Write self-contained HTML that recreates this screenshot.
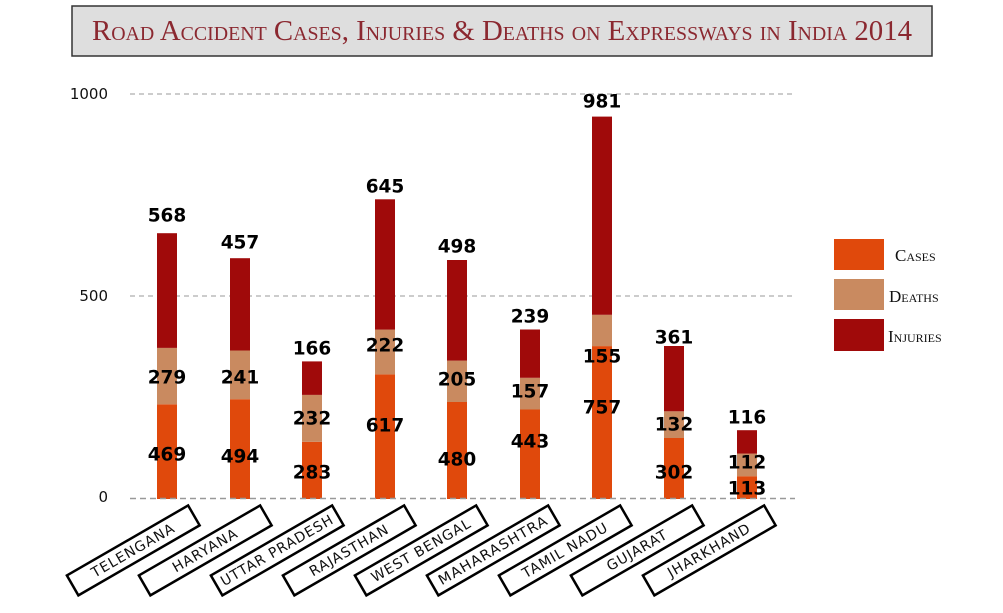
<!DOCTYPE html>
<html><head><meta charset="utf-8"><style>
html,body{margin:0;padding:0;background:#fff;}
svg{display:block;}
.v{font-family:"DejaVu Sans","Liberation Sans",sans-serif;font-weight:bold;font-size:18.5px;fill:#000;text-anchor:middle;dominant-baseline:central;}
.ax{font-family:"DejaVu Sans","Liberation Sans",sans-serif;font-size:15px;fill:#111;text-anchor:end;dominant-baseline:central;}
.lb{font-family:"DejaVu Sans","Liberation Sans",sans-serif;font-size:14px;fill:#111;text-anchor:middle;dominant-baseline:central;letter-spacing:1px;}
.lg{font-family:"Liberation Serif",serif;font-size:17px;fill:#111;font-variant:small-caps;}
</style></head><body>
<svg width="1003" height="613" viewBox="0 0 1003 613">
<rect x="72" y="6" width="860" height="50" fill="#dedede" stroke="#333" stroke-width="1.5"/>
<text x="502" y="40" text-anchor="middle" font-family="Liberation Serif, serif" font-size="29" fill="#8b2830" style="font-variant:small-caps" textLength="820" lengthAdjust="spacingAndGlyphs">Road Accident Cases, Injuries &amp; Deaths on Expressways in India 2014</text>

<g stroke="#999" stroke-dasharray="5,4" stroke-width="1">
<line x1="130" y1="94" x2="795" y2="94"/>
<line x1="130" y1="296" x2="795" y2="296"/>
</g>
<text class="ax" x="108" y="94">1000</text>
<text class="ax" x="108" y="296">500</text>
<text class="ax" x="108" y="497">0</text>

<g>
<rect x="157" y="404.3" width="20" height="94.7" fill="#e0490c"/>
<rect x="157" y="347.9" width="20" height="56.4" fill="#c98a60"/>
<rect x="157" y="233.2" width="20" height="114.7" fill="#a00a0a"/>
<rect x="230" y="399.2" width="20" height="99.8" fill="#e0490c"/>
<rect x="230" y="350.5" width="20" height="48.7" fill="#c98a60"/>
<rect x="230" y="258.2" width="20" height="92.3" fill="#a00a0a"/>
<rect x="302" y="441.8" width="20" height="57.2" fill="#e0490c"/>
<rect x="302" y="394.9" width="20" height="46.9" fill="#c98a60"/>
<rect x="302" y="361.4" width="20" height="33.5" fill="#a00a0a"/>
<rect x="375" y="374.4" width="20" height="124.6" fill="#e0490c"/>
<rect x="375" y="329.6" width="20" height="44.8" fill="#c98a60"/>
<rect x="375" y="199.3" width="20" height="130.3" fill="#a00a0a"/>
<rect x="447" y="402" width="20" height="97" fill="#e0490c"/>
<rect x="447" y="360.6" width="20" height="41.4" fill="#c98a60"/>
<rect x="447" y="260" width="20" height="100.6" fill="#a00a0a"/>
<rect x="520" y="409.5" width="20" height="89.5" fill="#e0490c"/>
<rect x="520" y="377.8" width="20" height="31.7" fill="#c98a60"/>
<rect x="520" y="329.5" width="20" height="48.3" fill="#a00a0a"/>
<rect x="592" y="346.1" width="20" height="152.9" fill="#e0490c"/>
<rect x="592" y="314.8" width="20" height="31.3" fill="#c98a60"/>
<rect x="592" y="116.6" width="20" height="198.2" fill="#a00a0a"/>
<rect x="664" y="438" width="20" height="61" fill="#e0490c"/>
<rect x="664" y="411.3" width="20" height="26.7" fill="#c98a60"/>
<rect x="664" y="346" width="20" height="65.3" fill="#a00a0a"/>
<rect x="737" y="476.2" width="20" height="22.8" fill="#e0490c"/>
<rect x="737" y="453.6" width="20" height="22.6" fill="#c98a60"/>
<rect x="737" y="430.2" width="20" height="23.4" fill="#a00a0a"/>
</g>
<line x1="130" y1="498.5" x2="795" y2="498.5" stroke="#999" stroke-dasharray="6,4" stroke-width="1.5"/>

<text class="v" x="167" y="216">568</text><text class="v" x="167" y="378">279</text><text class="v" x="167" y="455">469</text>
<text class="v" x="240" y="243">457</text><text class="v" x="240" y="378">241</text><text class="v" x="240" y="457">494</text>
<text class="v" x="312" y="349">166</text><text class="v" x="312" y="419">232</text><text class="v" x="312" y="473">283</text>
<text class="v" x="385" y="187">645</text><text class="v" x="385" y="346">222</text><text class="v" x="385" y="426">617</text>
<text class="v" x="457" y="247">498</text><text class="v" x="457" y="380">205</text><text class="v" x="457" y="460">480</text>
<text class="v" x="530" y="317">239</text><text class="v" x="530" y="392">157</text><text class="v" x="530" y="442">443</text>
<text class="v" x="602" y="102">981</text><text class="v" x="602" y="357">155</text><text class="v" x="602" y="408">757</text>
<text class="v" x="674" y="338">361</text><text class="v" x="674" y="425">132</text><text class="v" x="674" y="473">302</text>
<text class="v" x="747" y="418">116</text><text class="v" x="747" y="463">112</text><text class="v" x="747" y="489">113</text>

<g>
<g transform="translate(133,550) rotate(-30)"><rect x="-70" y="-11" width="140" height="23" fill="#fff" stroke="#000" stroke-width="2.5"/><text class="lb" x="0" y="1">TELENGANA</text></g>
<g transform="translate(205,550) rotate(-30)"><rect x="-70" y="-11" width="140" height="23" fill="#fff" stroke="#000" stroke-width="2.5"/><text class="lb" x="0" y="1">HARYANA</text></g>
<g transform="translate(277,550) rotate(-30)"><rect x="-70" y="-11" width="140" height="23" fill="#fff" stroke="#000" stroke-width="2.5"/><text class="lb" x="0" y="1" textLength="128" lengthAdjust="spacingAndGlyphs">UTTAR PRADESH</text></g>
<g transform="translate(349,550) rotate(-30)"><rect x="-70" y="-11" width="140" height="23" fill="#fff" stroke="#000" stroke-width="2.5"/><text class="lb" x="0" y="1">RAJASTHAN</text></g>
<g transform="translate(421,550) rotate(-30)"><rect x="-70" y="-11" width="140" height="23" fill="#fff" stroke="#000" stroke-width="2.5"/><text class="lb" x="0" y="1">WEST BENGAL</text></g>
<g transform="translate(493,550) rotate(-30)"><rect x="-70" y="-11" width="140" height="23" fill="#fff" stroke="#000" stroke-width="2.5"/><text class="lb" x="0" y="1" textLength="124" lengthAdjust="spacingAndGlyphs">MAHARASHTRA</text></g>
<g transform="translate(565,550) rotate(-30)"><rect x="-70" y="-11" width="140" height="23" fill="#fff" stroke="#000" stroke-width="2.5"/><text class="lb" x="0" y="1">TAMIL NADU</text></g>
<g transform="translate(637,550) rotate(-30)"><rect x="-70" y="-11" width="140" height="23" fill="#fff" stroke="#000" stroke-width="2.5"/><text class="lb" x="0" y="1">GUJARAT</text></g>
<g transform="translate(709,550) rotate(-30)"><rect x="-70" y="-11" width="140" height="23" fill="#fff" stroke="#000" stroke-width="2.5"/><text class="lb" x="0" y="1">JHARKHAND</text></g>
</g>

<rect x="834" y="239" width="50" height="31" fill="#e0490c"/>
<rect x="834" y="279" width="50" height="31" fill="#c98a60"/>
<rect x="834" y="319" width="50" height="32" fill="#a00a0a"/>
<text class="lg" x="895" y="261">Cases</text>
<text class="lg" x="889" y="302">Deaths</text>
<text class="lg" x="888" y="342">Injuries</text>
</svg>
</body></html>
